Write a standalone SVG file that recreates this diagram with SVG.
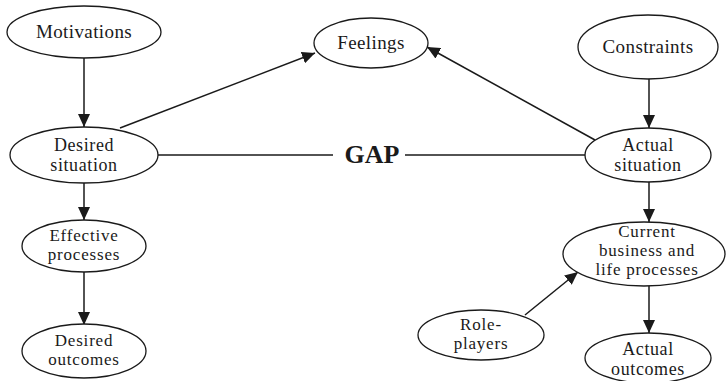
<svg xmlns="http://www.w3.org/2000/svg" width="726" height="381" viewBox="0 0 726 381">
<style>
  .node ellipse { fill: #ffffff; stroke: #1a1a1a; stroke-width: 1.3; }
  .node text { font-family: "Liberation Serif", "DejaVu Serif", serif; font-size: 19px; fill: #1a1a1a; text-anchor: middle; letter-spacing: 0.4px; }
  .node text.m { font-size: 18px; letter-spacing: 0.6px; }
  .node text.tight { font-size: 17px; letter-spacing: 0.8px; }
  .edge { stroke: #1a1a1a; stroke-width: 1.5; fill: none; }
  .arrow { marker-end: url(#ah); }
  .gap { font-family: "Liberation Serif", "DejaVu Serif", serif; font-size: 26px; font-weight: bold; fill: #1a1a1a; text-anchor: middle; }
</style>
<defs>
  <marker id="ah" markerUnits="userSpaceOnUse" markerWidth="13" markerHeight="12" refX="13" refY="6" orient="auto">
    <path d="M0,0 L13,6 L0,12 z" fill="#1a1a1a"/>
  </marker>
</defs>
<rect width="726" height="381" fill="#ffffff"/>
<g id="connectors">
  <line class="edge arrow" x1="84" y1="58" x2="84" y2="127"/>
  <line class="edge arrow" x1="120" y1="128" x2="315" y2="53"/>
  <line class="edge arrow" x1="595" y1="140" x2="427" y2="47"/>
  <line class="edge arrow" x1="649" y1="79" x2="649" y2="128"/>
  <line class="edge arrow" x1="84" y1="183" x2="84" y2="220"/>
  <line class="edge arrow" x1="84" y1="272" x2="84" y2="325"/>
  <line class="edge arrow" x1="649" y1="182" x2="649" y2="222"/>
  <line class="edge arrow" x1="649" y1="286" x2="649" y2="333"/>
  <line class="edge arrow" x1="525" y1="315" x2="578" y2="272"/>
  <line class="edge" x1="158" y1="155" x2="333" y2="155"/>
  <line class="edge" x1="405" y1="155" x2="586" y2="155"/>
  <text class="gap" x="372" y="163">GAP</text>
</g>
<g id="motivations" class="node">
  <ellipse cx="84" cy="32" rx="77" ry="26"/>
  <text x="84" y="38">Motivations</text>
</g>
<g id="feelings" class="node">
  <ellipse cx="371" cy="43" rx="57" ry="25"/>
  <text x="371" y="49">Feelings</text>
</g>
<g id="constraints" class="node">
  <ellipse cx="648" cy="47" rx="70" ry="32"/>
  <text x="648" y="53">Constraints</text>
</g>
<g id="desired-situation" class="node">
  <ellipse cx="84" cy="155" rx="74" ry="28"/>
  <text class="m" x="84" y="151">Desired</text>
  <text class="m" x="84" y="171">situation</text>
</g>
<g id="actual-situation" class="node">
  <ellipse cx="648" cy="155" rx="63" ry="27"/>
  <text class="m" x="648" y="151">Actual</text>
  <text class="m" x="648" y="171">situation</text>
</g>
<g id="effective-processes" class="node">
  <ellipse cx="84" cy="246" rx="62" ry="26"/>
  <text class="tight" x="84" y="241">Effective</text>
  <text class="tight" x="84" y="260">processes</text>
</g>
<g id="desired-outcomes" class="node">
  <ellipse cx="84" cy="351" rx="62" ry="27"/>
  <text class="tight" x="84" y="346">Desired</text>
  <text class="tight" x="84" y="365">outcomes</text>
</g>
<g id="current-processes" class="node">
  <ellipse cx="644" cy="254" rx="81" ry="32"/>
  <text class="tight" x="647" y="237">Current</text>
  <text class="tight" x="647" y="256">business and</text>
  <text class="tight" x="647" y="275">life processes</text>
</g>
<g id="role-players" class="node">
  <ellipse cx="481" cy="335" rx="63" ry="25"/>
  <text class="tight" x="481" y="330">Role-</text>
  <text class="tight" x="481" y="349">players</text>
</g>
<g id="actual-outcomes" class="node">
  <ellipse cx="648" cy="358" rx="63" ry="25"/>
  <text class="m" x="648" y="355">Actual</text>
  <text class="m" x="648" y="375">outcomes</text>
</g>
</svg>
